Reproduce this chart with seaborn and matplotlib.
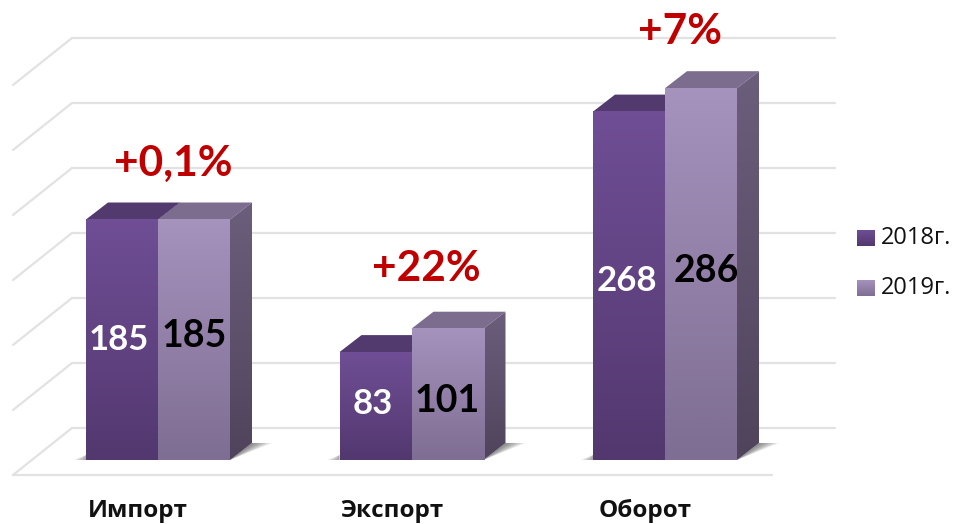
#!/usr/bin/env python3
import numpy as np
import pandas as pd
import matplotlib
matplotlib.use("Agg")
import matplotlib.pyplot as plt
from matplotlib.colors import LinearSegmentedColormap
from matplotlib.patches import Polygon
import seaborn as sns

# chart data
CATEGORIES = ["Импорт", "Экспорт", "Оборот"]
YEARS = ["2018г.", "2019г."]
VALUES_2018 = [185, 83, 268]
VALUES_2019 = [185, 101, 286]
VALUE_LABELS_2018 = ["185", "83", "268"]
VALUE_LABELS_2019 = ["185", "101", "286"]
GROWTH = ["+0,1%", "+22%", "+7%"]
GRID_VALUES = [0, 50, 100, 150, 200, 250, 300]

# pixel layout of the picture
W, H = 955, 524
X0, X_STEP = 158, 253.5
Y0, Y_SCALE = 460, 1.3
DX, DY = 22, 17

FRONT = [("#6f4e95", "#53386f"), ("#a592bd", "#7f6e93")]
SIDE = [("#54396f", "#453060"), ("#6a5e7c", "#50445c")]
TOP = ["#523a6e", "#7c6c8e"]
TEXT_COL = ["white", "black"]
LABEL_SIZE = [25, 27]
# small hand nudges of the value labels, in pixels (x, y down)
LABEL_NUDGE = [[(-3, 4), (-3, 2), (-2, -1)], [(0, 0), (0, 11), (5, 1)]]
GROWTH_NUDGE = [4, 0, 4]


def px_x(p):
    return (p - X0) / X_STEP


def px_y(p):
    return (Y0 - p) / Y_SCALE


def gradient(ax, x0, x1, y0, y1, cols, zorder):
    # top colour goes to y1, bottom colour to y0
    cmap = LinearSegmentedColormap.from_list("g", [cols[1], cols[0]])
    grad = np.linspace(0, 1, 64).reshape(-1, 1)
    return ax.imshow(grad, cmap=cmap, origin="lower", aspect="auto",
                     extent=(x0, x1, y0, y1), zorder=zorder, interpolation="bilinear")


def main():
    sns.set_theme(style="white")
    plt.rcParams["font.family"] = ["Open Sans", "DejaVu Sans"]

    df = pd.DataFrame({
        "cat": CATEGORIES * 2,
        "year": [YEARS[0]] * 3 + [YEARS[1]] * 3,
        "value": VALUES_2018 + VALUES_2019,
    })

    fig = plt.figure(figsize=(W / 100, H / 100), dpi=100)
    ax = fig.add_axes([0, 0, 1, 1])
    sns.barplot(data=df, x="cat", y="value", hue="year", palette=[c[0] for c in FRONT],
                width=144 / X_STEP, gap=0, legend=False, ax=ax)
    ax.set_axis_off()

    ddx = DX / X_STEP
    ddy = DY / Y_SCALE
    floor = -15 / Y_SCALE

    # grid: wall lines, slanted side wall lines, floor
    for g in GRID_VALUES:
        back = g + 32 / Y_SCALE
        ax.plot([px_x(72), px_x(835)], [back, back], color="#e2e2e2", lw=1.6, zorder=1)
        ax.plot([px_x(13), px_x(72)], [g + floor, back], color="#e2e2e2", lw=1.6, zorder=1)
    ax.plot([px_x(13), px_x(772)], [floor, floor], color="#e2e2e2", lw=1.6, zorder=1)

    # turn the flat seaborn bars into 3d columns
    for h, cont in enumerate(ax.containers):
        z = 3 + h * 2
        for i, bar in enumerate(cont):
            x0, x1 = bar.get_x(), bar.get_x() + bar.get_width()
            top = bar.get_height()
            if h == 1:
                # soft shadow on the floor
                for k in range(1, 9):
                    ext = k * 2.5 / X_STEP
                    ax.add_patch(Polygon([(x1, 0), (x1 + ddx, ddy), (x1 + ddx + ext, ddy)],
                                         closed=True, fc="#333333", ec="none", alpha=0.09, zorder=2))
            else:
                for k in range(1, 5):
                    ext = k * 3 / X_STEP
                    ax.add_patch(Polygon([(x0, 0), (x0, 5 / Y_SCALE), (x0 - ext, 0)],
                                         closed=True, fc="#333333", ec="none", alpha=0.12, zorder=2))
            ax.add_patch(Polygon([(x0, top), (x0 + ddx, top + ddy), (x1 + ddx, top + ddy), (x1, top)],
                                 closed=True, fc=TOP[h], ec="none", zorder=z))
            side = gradient(ax, x1, x1 + ddx, 0, top + ddy, SIDE[h], z)
            clip = Polygon([(x1, 0), (x1 + ddx, ddy), (x1 + ddx, top + ddy), (x1, top)],
                           closed=True, transform=ax.transData, fc="none", ec="none")
            ax.add_patch(clip)
            side.set_clip_path(clip)
            gradient(ax, x0, x1, 0, top, FRONT[h], z + 0.5)
            bar.set_visible(False)

            lab = (VALUE_LABELS_2018 if h == 0 else VALUE_LABELS_2019)[i]
            nx, ny = LABEL_NUDGE[h][i]
            ax.text((x0 + x1) / 2 + nx / X_STEP, top / 2 + (4 - ny) / Y_SCALE, lab,
                    color=TEXT_COL[h], fontsize=LABEL_SIZE[h], fontweight="bold",
                    ha="center", va="center", zorder=10,
                    family=["Lato", "Open Sans", "DejaVu Sans"])

    # growth labels above each group
    for i, txt in enumerate(GROWTH):
        peak = max(VALUES_2018[i], VALUES_2019[i])
        ax.text(i + 15 / X_STEP, peak + (60 - GROWTH_NUDGE[i]) / Y_SCALE, txt, color="#c00000",
                fontsize=30.5, fontweight="bold", ha="center", va="center", zorder=10,
                family=["Lato", "Open Sans", "DejaVu Sans"])
        # category names sit a bit left of the group centre
        ax.text(i - 20 / X_STEP, px_y(511), CATEGORIES[i], color="#111111", fontsize=17.5,
                fontweight="bold", ha="center", va="center")

    # legend
    for h, (yr, py) in enumerate(zip(YEARS, [238, 288])):
        gradient(ax, px_x(857), px_x(875), px_y(py + 8), px_y(py - 8), FRONT[h], 5)
        ax.text(px_x(881), px_y(py), yr, fontsize=17, color="#111111", ha="left", va="center")

    ax.set_xlim(px_x(0), px_x(W))
    ax.set_ylim(px_y(H), px_y(0))

    fig.savefig("out.png", dpi=100)


if __name__ == "__main__":
    main()
